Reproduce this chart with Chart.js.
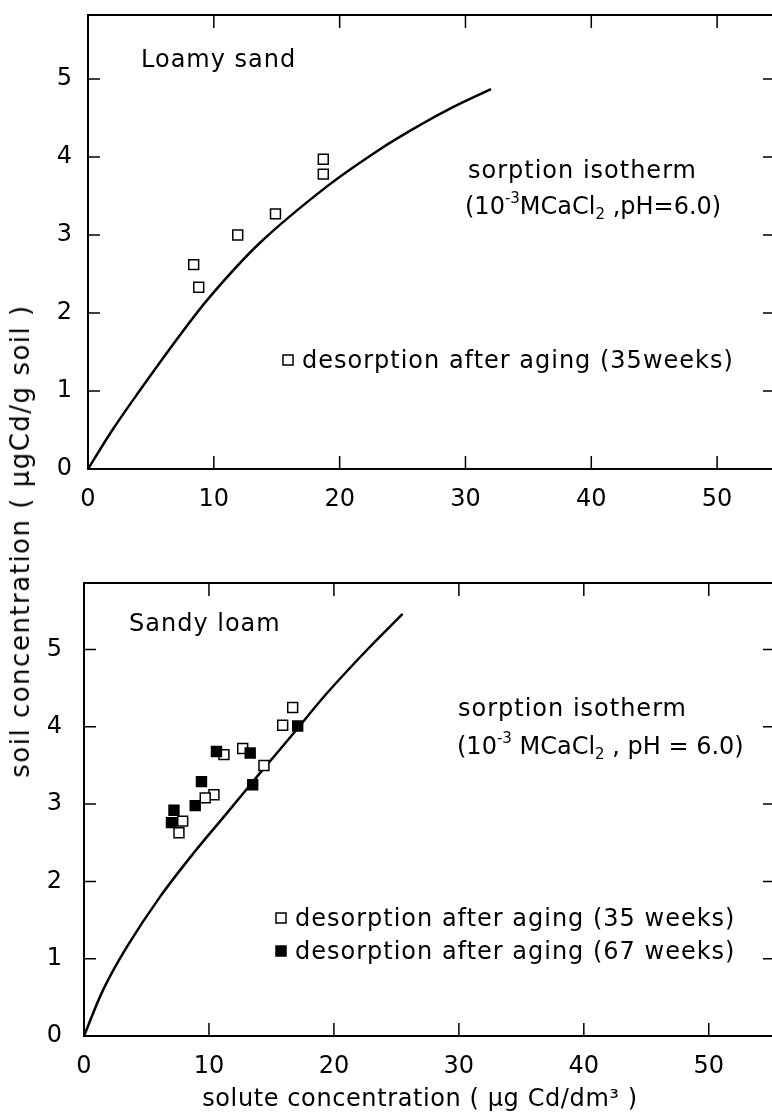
<!DOCTYPE html>
<html>
<head>
<meta charset="utf-8">
<script src="https://cdn.jsdelivr.net/npm/chart.js@4.4.1/dist/chart.umd.min.js"></script>
<style>
    html, body { margin: 0; padding: 0; background: #fff; overflow: hidden; }
    body { width: 772px; height: 1113px; position: relative; }
    canvas { position: absolute; left: 0; }
    #topChart { top: 0; }
    #botChart { top: 530px; }
    #ytitle {
        position: absolute; left: 20px; top: 541px;
        font: 26px "DejaVu Sans"; letter-spacing: 1.5px; color: #000; white-space: nowrap;
        transform: translate(-50%, -50%) rotate(-90deg);
    }
</style>
</head>
<body>
<canvas id="topChart" width="800" height="520"></canvas>
<canvas id="botChart" width="800" height="583"></canvas>
<div id="ytitle">soil concentration ( μgCd/g soil )</div>
<script>
// ticks
var xTicks = [0, 10, 20, 30, 40, 50];
var yTicks = [0, 1, 2, 3, 4, 5];

// loamy sand
var loamyIsoX = [0, 1.9, 3.87, 7.05, 9.70, 13.67, 18.97, 23.21, 26.39, 28.78, 32.03];
var loamyIsoY = [0, 0.49, 0.95, 1.66, 2.21, 2.90, 3.62, 4.10, 4.41, 4.62, 4.87];
var loamy35X = [8.4, 8.8, 11.9, 14.9, 18.7, 18.7];
var loamy35Y = [2.62, 2.33, 3.00, 3.27, 3.97, 3.78];

// sandy loam
var sandyIsoX = [0, 1.54, 3.42, 6.08, 8.74, 11.42, 14.08, 16.74, 19.42, 22.62, 25.5];
var sandyIsoY = [0, 0.60, 1.15, 1.80, 2.36, 2.88, 3.40, 3.91, 4.43, 4.99, 5.46];
var sandy35X = [16.7, 15.9, 14.4, 12.7, 11.2, 10.4, 9.7, 7.9, 7.6];
var sandy35Y = [4.25, 4.02, 3.50, 3.72, 3.64, 3.12, 3.08, 2.78, 2.63];
var sandy67X = [17.1, 13.3, 13.5, 10.6, 9.4, 8.9, 7.2, 7.0];
var sandy67Y = [4.01, 3.66, 3.25, 3.68, 3.29, 2.98, 2.92, 2.76];

var FONT = '"DejaVu Sans"';

function pts(xs, ys) {
    return xs.map(function(x, i) { return {x: x, y: ys[i]}; });
}

function isoLine(xs, ys) {
    return {
        label: 'sorption isotherm', data: pts(xs, ys), showLine: true,
        borderColor: '#000', borderWidth: 2.5, pointRadius: 0,
        tension: 0.35, order: 3
    };
}

function squares(label, xs, ys, fill, order) {
    return {
        label: label, data: pts(xs, ys), showLine: false,
        pointStyle: 'rect', pointRadius: 7, pointBorderWidth: 1.5,
        pointBorderColor: '#000', pointBackgroundColor: fill, order: order
    };
}

// frame + inward ticks on all four sides
var framePlugin = {
    id: 'frame',
    beforeDatasetsDraw: function(chart) {
        var a = chart.chartArea, ctx = chart.ctx;
        var sx = chart.scales.x, sy = chart.scales.y;
        ctx.save();
        ctx.strokeStyle = '#000';
        ctx.lineWidth = 2;
        ctx.strokeRect(a.left, a.top, a.right - a.left, a.bottom - a.top);
        ctx.lineWidth = 1.5;
        ctx.beginPath();
        sx.ticks.forEach(function(t) {
            if (t.value === 0) return;
            var px = sx.getPixelForValue(t.value);
            ctx.moveTo(px, a.bottom); ctx.lineTo(px, a.bottom - 13);
            ctx.moveTo(px, a.top); ctx.lineTo(px, a.top + 13);
        });
        sy.ticks.forEach(function(t) {
            if (t.value === 0) return;
            var py = sy.getPixelForValue(t.value);
            ctx.moveTo(a.left, py); ctx.lineTo(a.left + 12, py);
            ctx.moveTo(a.right, py); ctx.lineTo(a.right - 12, py);
        });
        ctx.stroke();
        ctx.restore();
    }
};

// free texts, in-plot legend and x title
var notesPlugin = {
    id: 'notes',
    afterDraw: function(chart, args, opts) {
        var ctx = chart.ctx;
        ctx.save();
        ctx.fillStyle = '#000';
        ctx.textBaseline = 'middle';
        ctx.textAlign = 'left';
        (opts.texts || []).forEach(function(n) {
            var x = n.x;
            ctx.letterSpacing = (n.ls || 0) + 'px';
            ctx.textAlign = n.align || 'left';
            n.parts.forEach(function(p) {
                ctx.font = (p.size || 24) + 'px ' + FONT;
                ctx.fillText(p.t, x, n.y + (p.dy || 0));
                x += ctx.measureText(p.t).width;
            });
        });
        ctx.textAlign = 'left';
        (opts.legend || []).forEach(function(l) {
            var ds = chart.data.datasets[l.ds];
            ctx.fillStyle = ds.pointBackgroundColor;
            ctx.fillRect(l.x - 5, l.y - 5, 10, 10);
            ctx.strokeStyle = '#000';
            ctx.lineWidth = 1.5;
            ctx.strokeRect(l.x - 5, l.y - 5, 10, 10);
            ctx.fillStyle = '#000';
            ctx.letterSpacing = '1px';
            ctx.font = '24px ' + FONT;
            ctx.fillText(ds.label, l.x + 14, l.y + 2);
        });
        ctx.restore();
    }
};

function makeOptions(cfg) {
    return {
        responsive: false,
        animation: false,
        layout: { padding: { top: cfg.top, right: 25, left: 0, bottom: 0 } },
        plugins: {
            legend: { display: false },
            tooltip: { enabled: false },
            notes: { texts: cfg.texts, legend: cfg.legend }
        },
        scales: {
            x: {
                type: 'linear', min: 0, max: cfg.xmax,
                grid: { display: false, drawTicks: false },
                border: { display: false },
                afterBuildTicks: function(s) { s.ticks = xTicks.map(function(v) { return {value: v}; }); },
                afterFit: function(s) { s.height = cfg.xh; s.paddingLeft = 0; s.paddingRight = 0; },
                ticks: { color: '#000', padding: 16, font: { family: FONT, size: 24 }, maxRotation: 0 }
            },
            y: {
                type: 'linear', min: 0, max: cfg.ymax,
                grid: { display: false, drawTicks: false },
                border: { display: false },
                afterBuildTicks: function(s) { s.ticks = yTicks.map(function(v) { return {value: v}; }); },
                afterFit: function(s) { s.width = cfg.yw; s.paddingTop = 0; s.paddingBottom = 0; },
                ticks: { color: '#000', padding: cfg.ypad, font: { family: FONT, size: 24 } }
            }
        }
    };
}

// Loamy sand
new Chart(document.getElementById('topChart'), {
    type: 'scatter',
    data: {
        datasets: [
            isoLine(loamyIsoX, loamyIsoY),
            squares('desorption after aging (35weeks)', loamy35X, loamy35Y, '#fff', 2)
        ]
    },
    options: makeOptions({
        top: 15, xmax: 54.6, ymax: 5.82, xh: 51, yw: 88, ypad: 16,
        texts: [
            { x: 141, y: 61, ls: 1, parts: [{t: 'Loamy sand'}] },
            { x: 468, y: 172, ls: 1, parts: [{t: 'sorption isotherm'}] },
            { x: 465, y: 208, parts: [{t: '(10'}, {t: '-3', size: 15, dy: -9}, {t: 'MCaCl'}, {t: '2', size: 15, dy: 7}, {t: ' ,pH=6.0)'}] }
        ],
        legend: [ { ds: 1, x: 288, y: 360 } ]
    }),
    plugins: [framePlugin, notesPlugin]
});

// Sandy loam
new Chart(document.getElementById('botChart'), {
    type: 'scatter',
    data: {
        datasets: [
            isoLine(sandyIsoX, sandyIsoY),
            squares('desorption after aging (35 weeks)', sandy35X, sandy35Y, '#fff', 2),
            squares('desorption after aging (67 weeks)', sandy67X, sandy67Y, '#000', 1)
        ]
    },
    options: makeOptions({
        top: 53, xmax: 55.3, ymax: 5.86, xh: 77, yw: 84, ypad: 22,
        texts: [
            { x: 129, y: 95, ls: 1, parts: [{t: 'Sandy loam'}] },
            { x: 458, y: 180, ls: 1, parts: [{t: 'sorption isotherm'}] },
            { x: 457, y: 218, parts: [{t: '(10'}, {t: '-3', size: 15, dy: -9}, {t: ' MCaCl'}, {t: '2', size: 15, dy: 7}, {t: ' , pH = 6.0)'}] },
            { x: 420, y: 570, align: 'center', ls: 0.6, parts: [{t: 'solute concentration ( μg Cd/dm³ )'}] }
        ],
        legend: [ { ds: 1, x: 281, y: 388 }, { ds: 2, x: 281, y: 421 } ]
    }),
    plugins: [framePlugin, notesPlugin]
});
</script>
</body>
</html>
